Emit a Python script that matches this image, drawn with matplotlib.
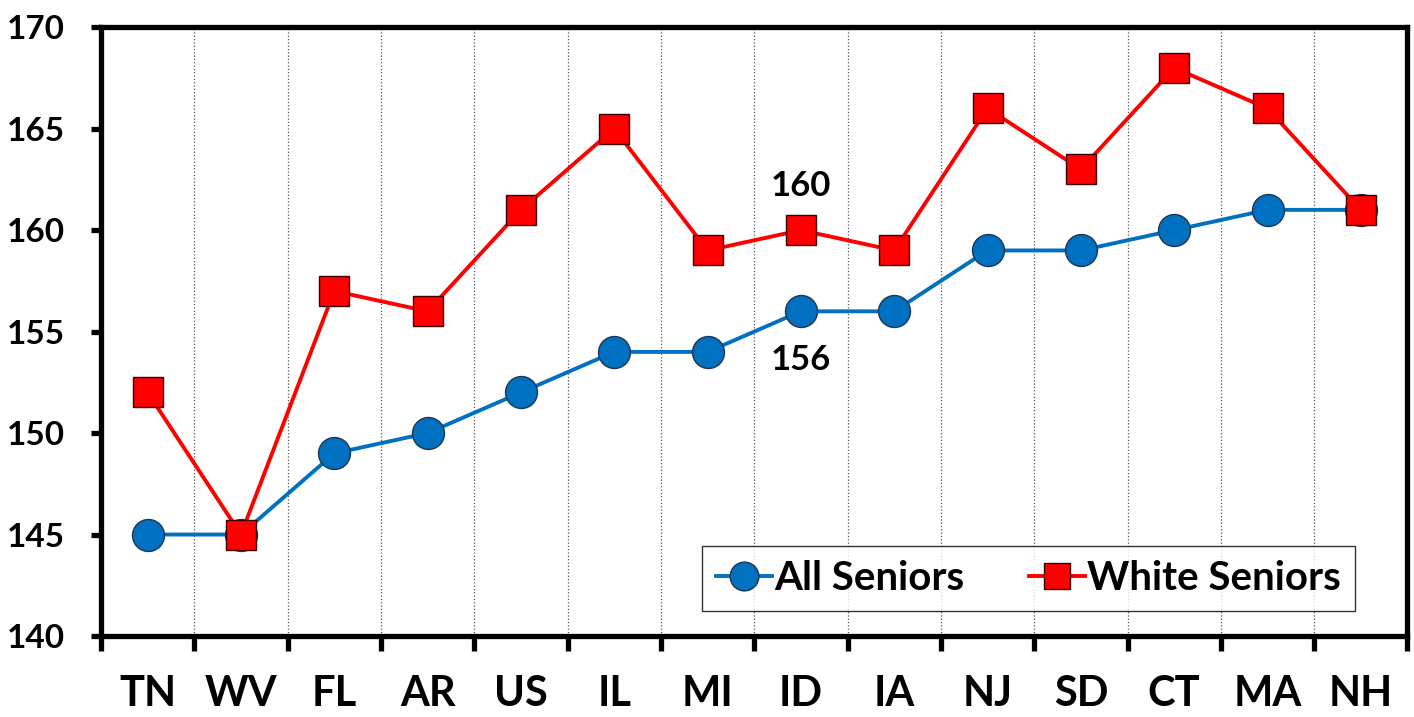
import numpy as np
import matplotlib.pyplot as plt
from matplotlib.ticker import FixedLocator, NullFormatter

states = ['TN', 'WV', 'FL', 'AR', 'US', 'IL', 'MI', 'ID', 'IA', 'NJ', 'SD', 'CT', 'MA', 'NH']
allSeniors = [145, 145, 149, 150, 152, 154, 154, 156, 156, 159, 159, 160, 161, 161]
whiteSeniors = [152, 145, 157, 156, 161, 165, 159, 160, 159, 166, 163, 168, 166, 161]

plt.rcParams['font.family'] = ['Lato', 'DejaVu Sans']
plt.rcParams['font.weight'] = 'bold'

fig = plt.figure(figsize=(14.14, 7.17), dpi=100)
ax = fig.add_axes([0.0714, 0.113, 0.924, 0.849])

x = np.arange(len(states))
ax.plot(x, allSeniors, color='#0070C0', lw=2.8, marker='o', markersize=23,
        markerfacecolor='#0070C0', markeredgecolor='#1F3550', markeredgewidth=1,
        label='All Seniors', zorder=3)
ax.plot(x, whiteSeniors, color='#FF0000', lw=2.8, marker='s', markersize=21,
        markerfacecolor='#FF0000', markeredgecolor='#3A0000', markeredgewidth=1,
        label='White Seniors', zorder=4)

# labels on ID
ax.text(7, 162.2, '160', ha='center', va='center', fontsize=25, fontweight='bold')
ax.text(7, 153.6, '156', ha='center', va='center', fontsize=25, fontweight='bold')

ax.set_xlim(-0.5, len(states) - 0.5)
ax.set_ylim(140, 170)
ax.set_yticks(np.arange(140, 171, 5))
ax.set_xticks(x)
ax.set_xticklabels(states)
ax.xaxis.set_minor_locator(FixedLocator(np.arange(-0.5, len(states), 1)))
ax.xaxis.set_minor_formatter(NullFormatter())

ax.tick_params(axis='x', which='major', length=0, pad=28, labelsize=30)
ax.tick_params(axis='x', which='minor', length=11, width=3.8, direction='out')
ax.tick_params(axis='y', length=7, width=3.8, direction='out', pad=19, labelsize=24)
for lbl in ax.get_xticklabels() + ax.get_yticklabels():
    lbl.set_fontweight('bold')

ax.grid(which='minor', axis='x', linestyle=':', color='#555555', lw=0.9)
for s in ax.spines.values():
    s.set_linewidth(3.8)

leg = ax.legend(loc='center', bbox_to_anchor=(0.448, 0.041, 0.524, 0.108),
                ncol=2, fontsize=29, frameon=True, fancybox=False,
                borderpad=0.35, handlelength=1.4, handletextpad=0.05, columnspacing=1.6,
                markerscale=0.9, borderaxespad=0)
leg.get_frame().set_edgecolor('black')
leg.get_frame().set_linewidth(1)
for t in leg.get_texts():
    t.set_fontweight('bold')

fig.savefig('out.png', dpi=100)
